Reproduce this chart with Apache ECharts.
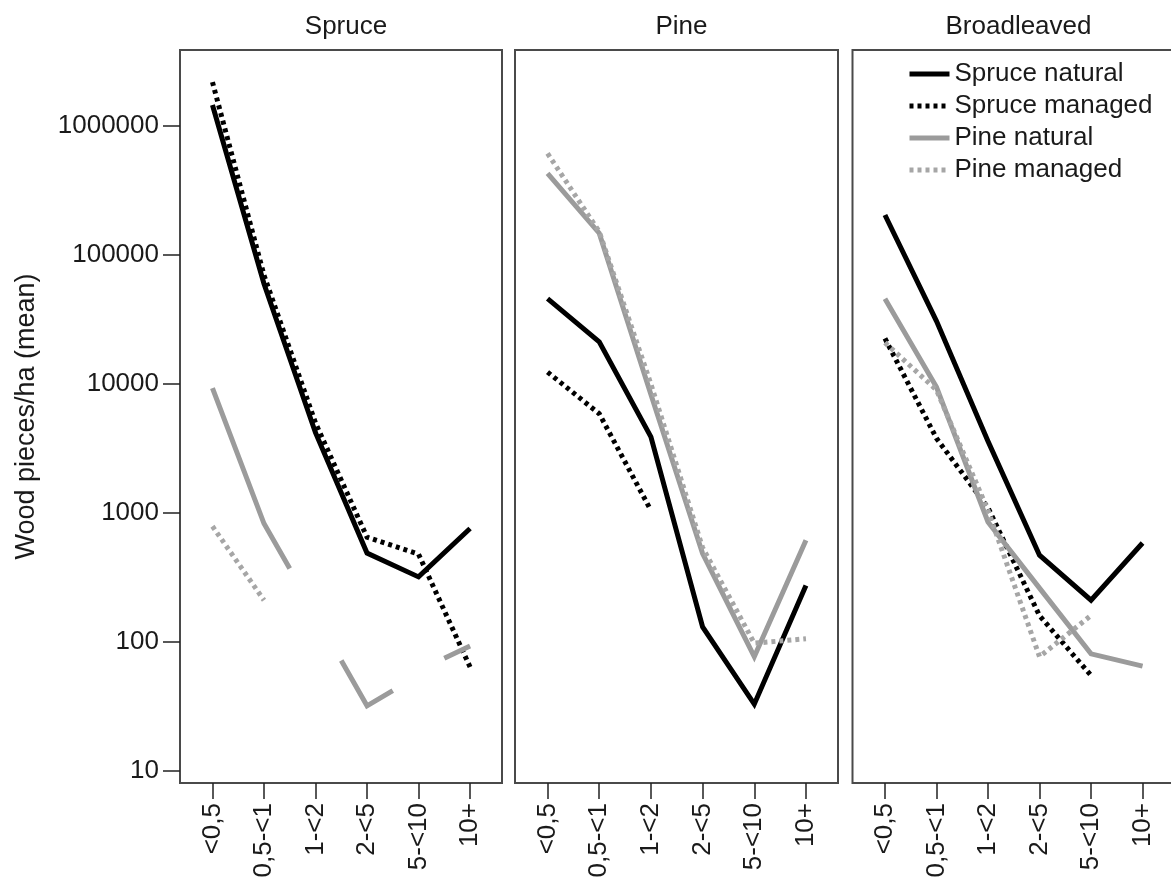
<!DOCTYPE html>
<html>
<head>
<meta charset="utf-8">
<script src="https://cdn.jsdelivr.net/npm/echarts@6/dist/echarts.min.js"></script>
<style>
  html, body { margin: 0; padding: 0; background: #ffffff; }
  #chart { width: 1171px; height: 880px; }
</style>
</head>
<body>
<div id="chart"></div>
<script>
// Diameter classes (cm) on the x axis of every panel
const categories = ['<0,5', '0,5-<1', '1-<2', '2-<5', '5-<10', '10+'];
const panelNames = ['Spruce', 'Pine', 'Broadleaved'];
const seriesNames = ['Spruce natural', 'Spruce managed', 'Pine natural', 'Pine managed'];
const yTickValues = [10, 100, 1000, 10000, 100000, 1000000];

// Each point is [diameter class position, mean wood pieces/ha]; '-' breaks the line.
// Panel "Spruce"
const spruceNaturalS = [[0, 1460000], [1, 60000], [2, 4200], [3, 490], [4, 320], [5, 760]];
const spruceManagedS = [[0, 2200000], [1, 70000], [2, 5000], [3, 650], [4, 480], [5, 64]];
const pineNaturalS = [[0, 9300], [1, 830], [1.5, 372], [1.5, '-'], [2.5, 72], [3, 32], [3.5, 42], [3.5, '-'], [4.5, 75], [5, 93]];
const pineManagedS = [[0, 790], [1, 211]];

// Panel "Pine"
const spruceNaturalP = [[0, 46000], [1, 21300], [2, 3900], [3, 131], [4, 33], [5, 275]];
const spruceManagedP = [[0, 12400], [1, 5900], [2, 1050]];
const pineNaturalP = [[0, 431000], [1, 148000], [2, 8300], [3, 485], [4, 77], [5, 615]];
const pineManagedP = [[0, 615000], [1, 152000], [2, 10000], [3, 540], [4, 98], [5, 106]];

// Panel "Broadleaved"
const spruceNaturalB = [[0, 205000], [1, 30800], [2, 3600], [3, 471], [4, 211], [5, 586]];
const spruceManagedB = [[0, 22600], [1, 3800], [2, 1100], [3, 160], [4, 55]];
const pineNaturalB = [[0, 46000], [1, 9500], [2, 853], [3, 262], [4, 81], [5, 65]];
const pineManagedB = [[0, 21000], [1, 9000], [2, 1050], [3, 77], [4, 161]];

const panelData = [
  [spruceNaturalS, spruceManagedS, pineNaturalS, pineManagedS],
  [spruceNaturalP, spruceManagedP, pineNaturalP, pineManagedP],
  [spruceNaturalB, spruceManagedB, pineNaturalB, pineManagedB]
];

const FONT = "'Liberation Sans', Arial, Helvetica, sans-serif";
const TEXT = '#1a1a1a';

const lineStyles = [
  { color: '#000000', width: 5, type: 'solid' },
  { color: '#000000', width: 5, type: [4, 4] },
  { color: '#9b9b9b', width: 5, type: 'solid' },
  { color: '#a6a6a6', width: 5, type: [4, 4] }
];

// Panel frames (px)
const panelLeft = [180, 515, 852.5];
const panelWidth = [322, 323, 322];
const TOP = 50, HEIGHT = 733;

const grids = panelLeft.map((l, i) => ({
  left: l, top: TOP, width: panelWidth[i], height: HEIGHT,
  show: true, borderColor: '#4a4a4a', borderWidth: 2, backgroundColor: '#ffffff',
  containLabel: false, outerBoundsMode: 'none'
}));

const xAxes = panelLeft.map((_, i) => ({
  type: 'value', gridIndex: i, min: -0.63, max: 5.62,
  axisLine: { show: false, onZero: false },
  splitLine: { show: false },
  axisTick: { show: true, length: 16, customValues: [0, 1, 2, 3, 4, 5],
              lineStyle: { color: '#222', width: 1.5 } },
  axisLabel: {
    show: true, rotate: 90, margin: 20, customValues: [0, 1, 2, 3, 4, 5],
    formatter: v => categories[Math.round(v)] || '',
    fontFamily: FONT, fontSize: 26, color: TEXT
  }
}));

const yAxes = panelLeft.map((_, i) => ({
  type: 'log', logBase: 10, gridIndex: i, min: 8.07, max: 3.9e6,
  axisLine: { show: false, onZero: false },
  splitLine: { show: false },
  axisTick: { show: i === 0, length: 17, customValues: yTickValues,
              lineStyle: { color: '#222', width: 1.5 } },
  axisLabel: {
    show: i === 0, margin: 21, customValues: yTickValues,
    formatter: v => String(Math.round(v)),
    fontFamily: FONT, fontSize: 26, color: TEXT
  },
  name: i === 0 ? 'Wood pieces/ha (mean)' : '',
  nameLocation: 'middle', nameRotate: 90, nameGap: 140,
  nameTextStyle: { fontFamily: FONT, fontSize: 27, color: TEXT }
}));

const series = [];
panelData.forEach((group, p) => {
  group.forEach((data, s) => {
    series.push({
      type: 'line', name: seriesNames[s],
      xAxisIndex: p, yAxisIndex: p,
      data: data,
      showSymbol: false, symbol: 'none',
      connectNulls: false, clip: true,
      lineStyle: Object.assign({ cap: 'butt', join: 'miter' }, lineStyles[s]),
      itemStyle: { color: lineStyles[s].color },
      emphasis: { disabled: true },
      z: 2 + s
    });
  });
});

const titles = panelNames.map((name, i) => ({
  text: name,
  left: panelLeft[i] + panelWidth[i] / 2,
  top: 9,
  textAlign: 'center',
  textStyle: { fontFamily: FONT, fontSize: 26, fontWeight: 'normal', color: TEXT }
}));

const chart = echarts.init(document.getElementById('chart'), null, { renderer: 'canvas' });
chart.setOption({
  animation: false,
  backgroundColor: '#ffffff',
  title: titles,
  grid: grids,
  xAxis: xAxes,
  yAxis: yAxes,
  legend: {
    data: seriesNames,
    orient: 'vertical',
    left: 907, top: 61,
    padding: 0,
    itemWidth: 40, itemHeight: 14, itemGap: 6,
    itemStyle: { opacity: 0 },
    lineStyle: { width: 5 },
    textStyle: { fontFamily: FONT, fontSize: 26, color: TEXT, padding: 0 },
    selectedMode: false
  },
  series: series
});
</script>
</body>
</html>
